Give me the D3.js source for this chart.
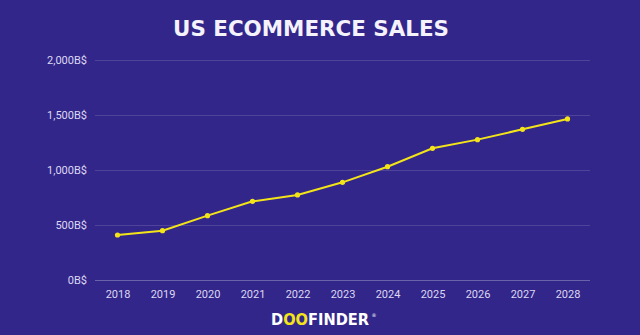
<!DOCTYPE html>
<html><head><meta charset="utf-8">
<script src="https://cdn.jsdelivr.net/npm/d3@7"></script>
<style>html,body{margin:0;padding:0;background:#33268a;}svg{display:block;}</style>
</head><body>
<script>
const years = ["2018","2019","2020","2021","2022","2023","2024","2025","2026","2027","2028"];
const sales = [409, 448, 585, 715, 773, 888, 1030, 1197, 1276, 1370, 1464];
const yTicks = [0, 500, 1000, 1500, 2000];
const title = "US ECOMMERCE SALES";

const W = 640, H = 335;
const svg = d3.select("body").append("svg").attr("width", W).attr("height", H);
svg.append("rect").attr("width", W).attr("height", H).attr("fill", "#33268a");

const x = d3.scalePoint().domain(years).range([95, 590]).padding(0.5);
const y = d3.scaleLinear().domain([0, 2000]).range([280, 60]);

svg.append("text").attr("x", 173).attr("y", 36)
  .attr("fill", "#f4f2fb").attr("font-family", "'DejaVu Sans', sans-serif")
  .attr("font-weight", 700).attr("font-size", 22)
  .attr("textLength", 276).attr("lengthAdjust", "spacingAndGlyphs").text(title);

// grid
const yAxis = d3.axisLeft(y).tickValues(yTicks).tickSize(-(590 - 95)).tickPadding(8)
  .tickFormat(d => d3.format(",")(d) + "B$");
const gy = svg.append("g").attr("transform", "translate(95,0)").call(yAxis);
gy.select(".domain").remove();
gy.selectAll(".tick line").attr("stroke", "#ffffff").attr("stroke-opacity", d => d === 0 ? 0.28 : 0.14);
gy.selectAll(".tick text").attr("fill", "#dcd8f2").attr("font-family", "Roboto, sans-serif")
  .attr("font-size", 11).attr("x", -8);

const xAxis = d3.axisBottom(x).tickSize(0).tickPadding(10);
const gx = svg.append("g").attr("transform", "translate(0,280)").call(xAxis);
gx.select(".domain").remove();
gx.selectAll(".tick text").attr("fill", "#dcd8f2").attr("font-family", "Roboto, sans-serif").attr("font-size", 11);

const data = years.map((yr, i) => ({yr, v: sales[i]}));
svg.append("path").datum(data).attr("fill", "none").attr("stroke", "#f3e419").attr("stroke-width", 2)
  .attr("d", d3.line().x(d => x(d.yr)).y(d => y(d.v)));
svg.selectAll("circle.pt").data(data).enter().append("circle").attr("class", "pt")
  .attr("cx", d => x(d.yr)).attr("cy", d => y(d.v)).attr("r", 2.6).attr("fill", "#f3e419");

// logo
const logo = svg.append("text").attr("x", 271).attr("y", 324.5)
  .attr("font-family", "'DejaVu Sans', sans-serif").attr("font-weight", 700).attr("font-size", 15.5)
  .attr("fill", "#ffffff").attr("textLength", 98).attr("lengthAdjust", "spacingAndGlyphs").text("D");
logo.append("tspan").attr("fill", "#f3e419").text("OO");
logo.append("tspan").text("FINDER");
svg.append("text").attr("x", 371.5).attr("y", 317).attr("font-size", 5).attr("fill", "#ffffff")
  .attr("font-family", "'DejaVu Sans', sans-serif").text("®");
</script>
</body></html>
